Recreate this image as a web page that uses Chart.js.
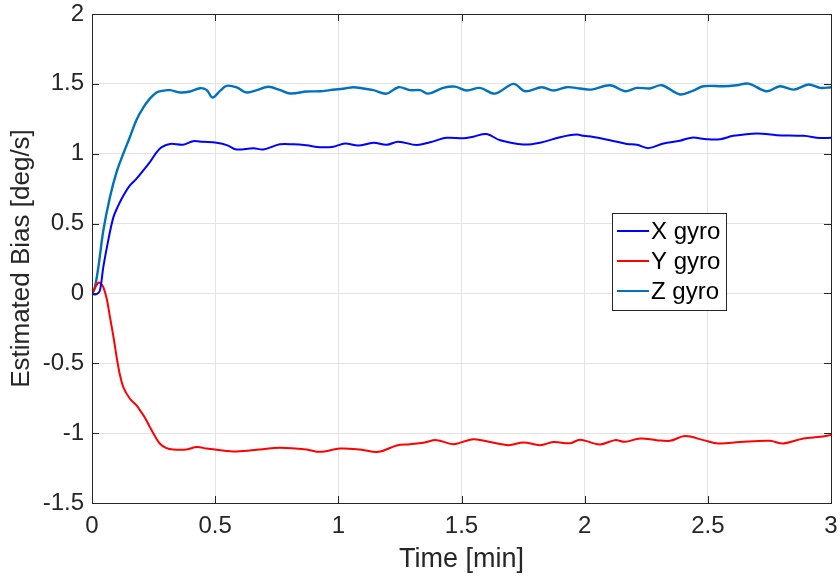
<!DOCTYPE html>
<html><head><meta charset="utf-8">
<script src="https://cdn.jsdelivr.net/npm/chart.js@4/dist/chart.umd.min.js"></script>
<style>html,body{margin:0;padding:0;background:#fff}canvas{display:block}</style>
</head><body>
<canvas id="c" width="840" height="576"></canvas>
<script>
// ---- data (time in minutes, bias in deg/s) ----
const xGyroTime = [0,0.01,0.02,0.032,0.046,0.066,0.087,0.107,0.127,0.154,0.18,0.208,0.235,0.262,0.283,0.317,0.37,0.411,0.45,0.506,0.55,0.587,0.655,0.695,0.763,0.817,0.87,0.926,0.98,1.027,1.081,1.142,1.196,1.244,1.318,1.372,1.44,1.508,1.548,1.602,1.657,1.751,1.819,1.9,1.968,1.995,2.035,2.103,2.171,2.212,2.259,2.32,2.387,2.435,2.496,2.55,2.604,2.699,2.78,2.889,2.956,3.0];
const xGyroBias = [0,-0.008,-0.004,0.02,0.19,0.38,0.546,0.63,0.70,0.773,0.82,0.88,0.94,1.01,1.047,1.07,1.064,1.09,1.085,1.078,1.06,1.03,1.04,1.03,1.067,1.067,1.06,1.047,1.05,1.073,1.058,1.078,1.064,1.086,1.062,1.082,1.114,1.11,1.122,1.141,1.096,1.066,1.079,1.118,1.137,1.128,1.12,1.097,1.07,1.064,1.04,1.073,1.093,1.115,1.104,1.104,1.128,1.145,1.133,1.128,1.112,1.115];

const yGyroTime = [0,0.012,0.026,0.036,0.046,0.06,0.073,0.087,0.1,0.113,0.127,0.154,0.18,0.195,0.215,0.235,0.255,0.276,0.3,0.33,0.384,0.425,0.465,0.506,0.587,0.682,0.763,0.871,0.926,1.007,1.088,1.163,1.237,1.291,1.345,1.399,1.467,1.548,1.616,1.691,1.752,1.819,1.873,1.941,1.981,2.062,2.123,2.164,2.225,2.292,2.346,2.407,2.482,2.543,2.63,2.752,2.806,2.888,2.956,3.0];
const yGyroBias = [0,0.04,0.077,0.07,0.045,-0.04,-0.17,-0.31,-0.456,-0.58,-0.67,-0.754,-0.80,-0.837,-0.89,-0.957,-1.02,-1.076,-1.105,-1.117,-1.117,-1.10,-1.11,-1.119,-1.131,-1.117,-1.105,-1.117,-1.134,-1.11,-1.117,-1.134,-1.088,-1.079,-1.069,-1.05,-1.079,-1.043,-1.064,-1.086,-1.067,-1.086,-1.064,-1.072,-1.048,-1.081,-1.05,-1.062,-1.038,-1.05,-1.055,-1.021,-1.05,-1.074,-1.064,-1.055,-1.074,-1.038,-1.026,-1.014];

const zGyroTime = [0,0.01,0.026,0.046,0.073,0.1,0.127,0.154,0.18,0.208,0.235,0.262,0.283,0.317,0.358,0.398,0.439,0.466,0.489,0.52,0.547,0.588,0.628,0.669,0.716,0.764,0.805,0.872,0.926,0.966,1.027,1.061,1.101,1.142,1.196,1.244,1.291,1.332,1.366,1.426,1.474,1.521,1.575,1.636,1.711,1.758,1.826,1.873,1.927,1.981,2.028,2.103,2.164,2.212,2.265,2.313,2.387,2.441,2.482,2.563,2.617,2.665,2.739,2.793,2.848,2.909,2.956,3.0];
const zGyroBias = [0,0.03,0.19,0.45,0.69,0.87,1.0,1.12,1.24,1.33,1.394,1.438,1.45,1.455,1.438,1.445,1.469,1.455,1.402,1.45,1.486,1.474,1.438,1.455,1.479,1.455,1.431,1.445,1.447,1.455,1.467,1.476,1.467,1.455,1.43,1.476,1.455,1.455,1.43,1.471,1.48,1.452,1.471,1.43,1.50,1.447,1.476,1.452,1.476,1.467,1.459,1.49,1.447,1.471,1.467,1.49,1.424,1.452,1.483,1.483,1.49,1.502,1.447,1.483,1.459,1.495,1.471,1.476];

const seriesLabels = ['X gyro','Y gyro','Z gyro'];
const seriesColors = ['#0000FF','#FF0000','#0072BD'];
const xAxisTitle = 'Time [min]';
const yAxisTitle = 'Estimated Bias [deg/s]';
const xRange = [0, 3], xStep = 0.5;
const yRange = [-1.5, 2], yStep = 0.5;

const pts = (t, v) => t.map((ti, i) => ({x: ti, y: v[i]}));
const FONT = "'Liberation Sans', Arial, Helvetica, sans-serif";
const TXT = '#262626';

// box + inward ticks (MATLAB style)
const boxTicks = {
  id: 'boxTicks',
  afterDatasetsDraw(chart) {
    const {ctx, chartArea: a, scales: {x, y}} = chart;
    const L = 7;
    ctx.save();
    ctx.strokeStyle = TXT;
    ctx.lineWidth = 1;
    ctx.beginPath();
    x.ticks.forEach(t => {
      const px = Math.round(x.getPixelForValue(t.value)) + 0.5;
      ctx.moveTo(px, a.bottom); ctx.lineTo(px, a.bottom - L);
      ctx.moveTo(px, a.top); ctx.lineTo(px, a.top + L);
    });
    y.ticks.forEach(t => {
      const py = Math.round(y.getPixelForValue(t.value)) + 0.5;
      ctx.moveTo(a.left, py); ctx.lineTo(a.left + L, py);
      ctx.moveTo(a.right, py); ctx.lineTo(a.right - L, py);
    });
    ctx.stroke();
    ctx.strokeRect(Math.round(a.left) + 0.5, Math.round(a.top) + 0.5,
                   Math.round(a.right - a.left), Math.round(a.bottom - a.top));
    ctx.restore();
  },
  afterDraw(chart) {
    const {ctx} = chart;
    const bx = 612, by = 213, bw = 114, bh = 97;
    ctx.save();
    ctx.fillStyle = '#fff';
    ctx.fillRect(bx, by, bw, bh);
    ctx.strokeStyle = TXT;
    ctx.lineWidth = 1;
    ctx.strokeRect(bx + 0.5, by + 0.5, bw, bh);
    ctx.font = '24px ' + FONT;
    ctx.textBaseline = 'middle';
    ctx.textAlign = 'left';
    chart.data.datasets.forEach((ds, i) => {
      const ry = by + 18 + i * 30;
      ctx.strokeStyle = ds.borderColor;
      ctx.lineWidth = 2;
      ctx.beginPath();
      ctx.moveTo(bx + 5, ry); ctx.lineTo(bx + 37, ry);
      ctx.stroke();
      ctx.fillStyle = '#000';
      ctx.fillText(ds.label, bx + 39, ry + 1);
    });
    ctx.restore();
  }
};

new Chart(document.getElementById('c'), {
  type: 'line',
  data: {
    datasets: [
      {label: seriesLabels[0], data: pts(xGyroTime, xGyroBias), borderColor: seriesColors[0]},
      {label: seriesLabels[1], data: pts(yGyroTime, yGyroBias), borderColor: seriesColors[1]},
      {label: seriesLabels[2], data: pts(zGyroTime, zGyroBias), borderColor: seriesColors[2], borderWidth: 2.4}
    ]
  },
  options: {
    responsive: false,
    animation: false,
    devicePixelRatio: 1,
    layout: {padding: {top: 14, right: 9, left: 0, bottom: 0}},
    elements: {
      point: {radius: 0},
      line: {borderWidth: 2, tension: 0.35, fill: false}
    },
    plugins: {legend: {display: false}, tooltip: {enabled: false}},
    scales: {
      x: {
        type: 'linear', min: xRange[0], max: xRange[1],
        afterFit: s => { s.height = 73; s.paddingLeft = 0; s.paddingRight = 0; },
        ticks: {stepSize: xStep, padding: 9, color: TXT, font: {family: FONT, size: 24},
                maxRotation: 0, callback: v => String(v)},
        grid: {color: '#e3e3e3', drawTicks: false},
        border: {display: false},
        title: {display: true, text: xAxisTitle, color: TXT, font: {family: FONT, size: 27},
                padding: {top: 0, bottom: 0}}
      },
      y: {
        type: 'linear', min: yRange[0], max: yRange[1],
        afterFit: s => { s.width = 92; s.paddingTop = 0; s.paddingBottom = 0; },
        ticks: {stepSize: yStep, padding: 8, color: TXT, font: {family: FONT, size: 24},
                callback: v => String(v)},
        grid: {color: '#e3e3e3', drawTicks: false},
        border: {display: false},
        title: {display: true, text: yAxisTitle, color: TXT, font: {family: FONT, size: 26},
                padding: {top: 6, bottom: 0}}
      }
    }
  },
  plugins: [boxTicks]
});
</script>
</body></html>
